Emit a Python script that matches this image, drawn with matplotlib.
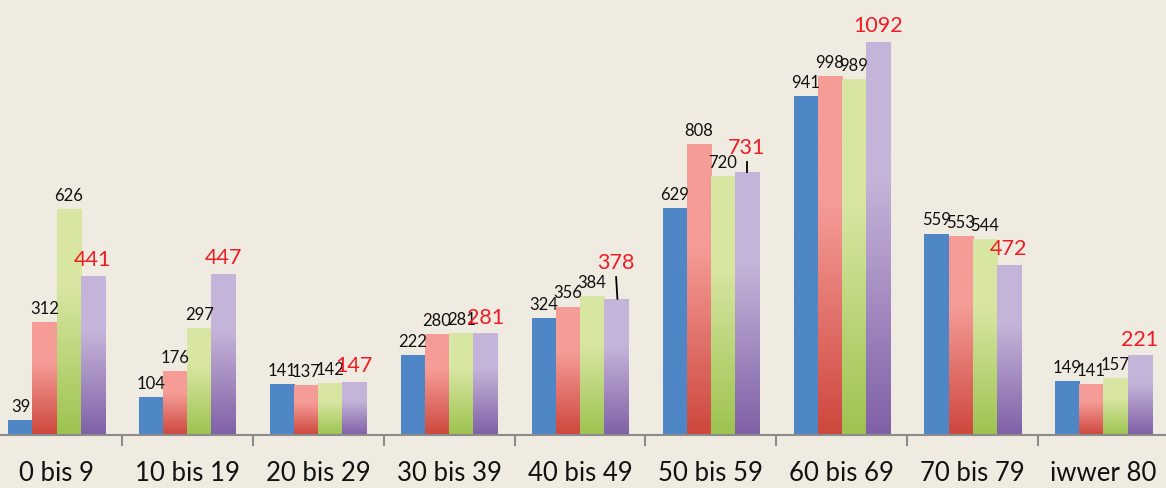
import numpy as np
import matplotlib.pyplot as plt
from matplotlib.colors import LinearSegmentedColormap

# Age groups and the four series
groups = ['0 bis 9', '10 bis 19', '20 bis 29', '30 bis 39', '40 bis 49',
          '50 bis 59', '60 bis 69', '70 bis 79', 'iwwer 80']
series_1 = [39, 104, 141, 222, 324, 629, 941, 559, 149]
series_2 = [312, 176, 137, 280, 356, 808, 998, 553, 141]
series_3 = [626, 297, 142, 281, 384, 720, 989, 544, 157]
series_4 = [441, 447, 147, 281, 378, 731, 1092, 472, 221]

all_series = [series_1, series_2, series_3, series_4]

# top colour / bottom colour of each series' gradient
colors = [('#4F86C6', '#4F86C6'),
          ('#F59C97', '#CD473D'),
          ('#D8E6A2', '#9DC350'),
          ('#C5B4D9', '#7F60A6')]

bg = '#EFEBE0'
plt.rcParams['font.family'] = ['Lato', 'DejaVu Sans']

fig = plt.figure(figsize=(11.66, 4.88), dpi=100, facecolor=bg)
ax = fig.add_axes([0, 1 - 435 / 488, 1, 435 / 488])
ax.set_facecolor(bg)

ymax = 1210
px = ymax / 435  # data units per pixel

x = np.arange(len(groups))
width = 0.184

grad = np.linspace(0, 1, 256).reshape(-1, 1)

for k, (vals, (c_top, c_bot)) in enumerate(zip(all_series, colors)):
    cmap = LinearSegmentedColormap.from_list(
        f's{k}', [(0, c_bot), (0.65, c_top), (1, c_top)])
    offs = (k - 1.5) * width
    for i, v in enumerate(vals):
        x0 = x[i] + offs - width / 2
        ax.imshow(grad, extent=(x0, x0 + width, 0, v), origin='lower',
                  cmap=cmap, aspect='auto', zorder=2, interpolation='bilinear')
        if k < 3:
            ax.annotate(str(v), (x[i] + offs, v), xytext=(0, 4),
                        textcoords='offset points', ha='center', va='bottom',
                        fontsize=12, color='#111111', zorder=4)

# red labels of the last series, two of them lifted with a leader line
lifted = {4: 20, 5: 8}  # extra lift in pixels
offs = 1.5 * width
for i, v in enumerate(series_4):
    dy = lifted.get(i, 0)
    if dy:
        ax.plot([x[i] + offs + 0.01 * (i == 4), x[i] + offs],
                [v + 1, v + (dy + 2) * px], color='black', lw=1.3, zorder=4)
    ax.annotate(str(v), (x[i] + offs, v), xytext=(0, (6 + dy) * 0.72),
                textcoords='offset points', ha='center', va='bottom',
                fontsize=15.5, color='#EE1C25', zorder=4)

ax.set_xlim(-0.432, 8.478)
ax.set_ylim(0, ymax)

for s in ['top', 'right', 'left']:
    ax.spines[s].set_visible(False)
ax.spines['bottom'].set_color('#8C8C8C')
ax.spines['bottom'].set_linewidth(1.5)
ax.set_yticks([])

ax.set_xticks(x)
ax.set_xticklabels(groups, fontsize=18.5, color='#111111')
ax.tick_params(axis='x', which='major', length=0, pad=19)
ax.set_xticks(np.arange(0.5, 8.5, 1), minor=True)
ax.tick_params(axis='x', which='minor', length=8, width=1.5, color='#8C8C8C')

fig.savefig('out.png', dpi=100, facecolor=bg)
